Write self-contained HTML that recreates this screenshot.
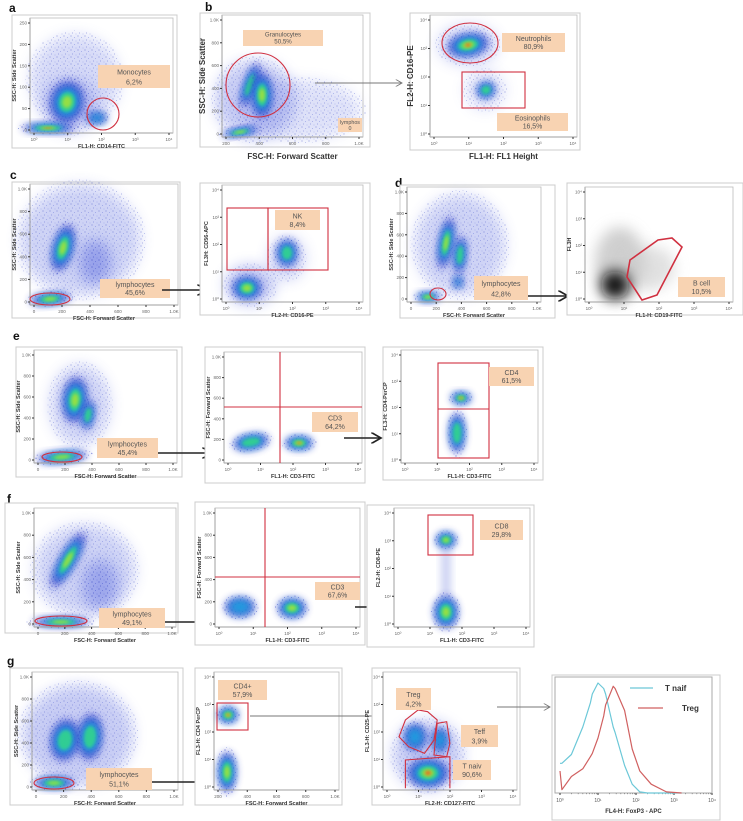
<!DOCTYPE html>
<html><head><meta charset="utf-8"><style>
body{margin:0;background:#fff}
svg{display:block;font-family:"Liberation Sans",sans-serif}
</style></head><body>
<svg id="fig" width="743" height="821" viewBox="0 0 743 821" xmlns="http://www.w3.org/2000/svg">
<defs>
<filter id="b1" x="-50%" y="-50%" width="200%" height="200%"><feGaussianBlur stdDeviation="1.5"/></filter>
<filter id="b3" x="-50%" y="-50%" width="200%" height="200%"><feGaussianBlur stdDeviation="4"/></filter>
<filter id="b6" x="-50%" y="-50%" width="200%" height="200%"><feGaussianBlur stdDeviation="7"/></filter>
<pattern id="sp" width="7" height="7" patternUnits="userSpaceOnUse">
<circle cx="1" cy="1" r="0.6" fill="#3040c0"/><circle cx="4.5" cy="2.5" r="0.5" fill="#5060d0"/><circle cx="2.5" cy="5" r="0.55" fill="#3040c0"/><circle cx="6" cy="6" r="0.45" fill="#6070d8"/>
</pattern>
<marker id="ah" markerWidth="8" markerHeight="8" refX="7" refY="4" orient="auto"><path d="M0,0 L7,4 L0,8" fill="none" stroke="#222" stroke-width="1.2"/></marker>
<marker id="ahg" markerWidth="8" markerHeight="8" refX="7" refY="4" orient="auto"><path d="M0,0 L7,4 L0,8" fill="none" stroke="#777" stroke-width="1"/></marker>
</defs>
<g id="layer"></g>
</svg>
<script>
// Histogram data (panel g, FoxP3): log10 positions and normalized counts
const histX = [0, 0.05, 0.3, 0.6, 0.8, 0.85, 1.0, 1.15, 1.2, 1.4, 1.45, 1.7, 1.9, 2.1, 2.3, 2.4, 2.8, 3.2];
const tnaifY = [0.27, 0.27, 0.35, 0.6, 0.82, 0.9, 1.0, 0.95, 0.9, 0.6, 0.55, 0.25, 0.08, 0.01, 0, 0, 0, 0];
const tregY = [0.2, 0.03, 0.15, 0.22, 0.33, 0.36, 0.5, 0.7, 0.8, 0.97, 0.95, 0.75, 0.4, 0.2, 0.12, 0.08, 0.01, 0];
const histXTicks = ['10⁰','10¹','10²','10³','10⁴'];

const NS='http://www.w3.org/2000/svg';
const L=document.getElementById('layer');
function mk(tag,attrs,parent,text){const e=document.createElementNS(NS,tag);for(const k in attrs)e.setAttribute(k,attrs[k]);if(text!==undefined)e.textContent=text;(parent||L).appendChild(e);return e;}

function frame(x1,y1,x2,y2,name){const r=mk('rect',{x:x1,y:y1,width:x2-x1,height:y2-y1,fill:'#fff',stroke:'#ccc','stroke-width':1});

}
function plot(x1,y1,x2,y2,xt,yt,xl,yl,name,big){
 const g=mk('g',{});
 
 
 mk('line',{x1:x1,y1:y1,x2:x1,y2:y2,stroke:'#333','stroke-width':1},g);
 mk('line',{x1:x1,y1:y2,x2:x2,y2:y2,stroke:'#333','stroke-width':1},g);
 mk('rect',{x:x1,y:y1,width:x2-x1,height:y2-y1,fill:'none',stroke:'#bbb','stroke-width':0.8},g);
 xt.forEach((t,i)=>{const x=x1+4+(x2-x1-8)*i/(xt.length-1);mk('line',{x1:x,y1:y2,x2:x,y2:y2+2,stroke:'#333'},g);mk('text',{x:x,y:y2+8,'font-size':4.5,fill:'#666','text-anchor':'middle'},g,t);});
 yt.forEach((t,i)=>{const y=y2-3-(y2-y1-8)*i/(yt.length-1);mk('line',{x1:x1-2,y1:y,x2:x1,y2:y,stroke:'#333'},g);mk('text',{x:x1-3,y:y+1.5,'font-size':4.5,fill:'#666','text-anchor':'end'},g,t);});
 const fs=big?8:5.5;
 const xlab=mk('text',{x:(x1+x2)/2,y:y2+(big?22:15),'font-size':fs,'font-weight':'bold',fill:'#333','text-anchor':'middle'},g,xl);
 
 
 const yx=x1-(big?17:14),yy=(y1+y2)/2;
 const ylab=mk('text',{x:yx,y:yy,'font-size':fs,'font-weight':'bold',fill:'#333','text-anchor':'middle',transform:`rotate(-90 ${yx} ${yy})`},g,yl);
 
 
}
const lin=['0','200','400','600','800','1.0K'], lg=['10⁰','10¹','10²','10³','10⁴'];
function haze(cx,cy,rx,ry,rot,op){
 mk('ellipse',{cx,cy,rx,ry,fill:'#6070e0',opacity:op||0.3,filter:'url(#b6)',transform:`rotate(${rot||0} ${cx} ${cy})`});
 mk('ellipse',{cx,cy,rx:rx*1.1,ry:ry*1.1,fill:'url(#sp)',opacity:0.45,transform:`rotate(${rot||0} ${cx} ${cy})`});
}
function blob(cx,cy,rx,ry,rot,lvl,name){
 const g=mk('g',{transform:`rotate(${rot||0} ${cx} ${cy})`});
 
 
 mk('ellipse',{cx,cy,rx:rx*1.25,ry:ry*1.25,fill:'url(#sp)',opacity:0.7},g);
 const cols=['#2a38c8','#1ea0e0','#30d090','#9be040','#f06020'];
 const sc=[1,0.72,0.5,0.3,0.15];
 for(let i=0;i<=lvl;i++)mk('ellipse',{cx,cy,rx:rx*sc[i],ry:ry*sc[i],fill:cols[i],opacity:i==0?0.8:0.95,filter:i<2?'url(#b3)':'url(#b1)'},g);
}
function gbox(x1,y1,x2,y2,t1,t2,name){
 const g=mk('g',{});
 
 
 mk('rect',{x:x1,y:y1,width:x2-x1,height:y2-y1,fill:'#f8d3b2'},g);
 const fs=Math.min(7,(y2-y1)/2.6);
 mk('text',{x:(x1+x2)/2,y:y1+(y2-y1)*0.42,'font-size':fs,fill:'#555','text-anchor':'middle'},g,t1);
 mk('text',{x:(x1+x2)/2,y:y1+(y2-y1)*0.85,'font-size':fs,fill:'#555','text-anchor':'middle'},g,t2);
}
function arrow(x1,y1,x2,y2,grey,name){const a=mk('line',{x1,y1,x2,y2,stroke:grey?'#777':'#222','stroke-width':grey?0.9:1.4,'marker-end':grey?'url(#ahg)':'url(#ah)'});

}
function red(tag,attrs,name){attrs.fill='none';attrs.stroke='#d03040';attrs['stroke-width']=attrs['stroke-width']||1.1;const e=mk(tag,attrs);

}
function letter(x,y,t){const e=mk('text',{x,y,'font-size':12,'font-weight':'bold',fill:'#111'},L,t);

}

// ===== Row a/b =====
letter(9,12,'a');letter(205,11,'b');
frame(12,15,177,148,'panel-a-frame');
haze(75,80,45,45,0,0.25);haze(70,105,28,28);
blob(67,102,16,20,10,3,'main-population');
blob(48,128,26,5,0,4,'debris-population');
blob(97,118,10,6,0,1,'monocyte-population');
plot(30,18,173,133,lg,['0','50','100','150','200','250'],'FL1-H: CD14-FITC','SSC-H: Side Scatter','panel-a-axes');
red('circle',{cx:103,cy:114,r:16},'monocytes-gate');
gbox(98,65,170,88,'Monocytes','6,2%','monocytes-label');

frame(200,13,370,147,'panel-b-frame');
haze(255,100,40,40,0,0.35);haze(300,110,60,30,0,0.2);
blob(250,85,6,22,20,2,'granulocyte-arm');
blob(262,95,10,22,0,3,'granulocyte-population');
blob(240,132,18,4,-10,3,'lymphocyte-band');
plot(222,15,363,137,['200','400','600','800','1.0K'],['0','200','400','600','800','1.0K'],'FSC-H: Forward Scatter','SSC-H: Side Scatter','panel-b-axes',true);
red('circle',{cx:258,cy:85,r:32},'granulocytes-gate');
gbox(243,30,323,46,'Granulocytes','50,5%','granulocytes-label');
gbox(338,118,362,132,'lymphos','0','lymphos-label');
arrow(315,83,402,83,true,'arrow-b-to-neutrophils');

frame(410,13,580,150,'panel-b2-frame');
haze(468,45,30,20,0,0.3);haze(485,90,20,20,0,0.2);
blob(468,45,20,11,-10,4,'neutrophil-population');
blob(486,90,9,8,-20,2,'eosinophil-population');
plot(430,15,577,137,lg,lg,'FL1-H: FL1 Height','FL2-H: CD16-PE','panel-b2-axes',true);
red('ellipse',{cx:470,cy:43,rx:28,ry:20},'neutrophils-gate');
red('rect',{x:462,y:72,width:63,height:36},'eosinophils-gate');
gbox(502,33,565,52,'Neutrophils','80,9%','neutrophils-label');
gbox(497,113,568,131,'Eosinophils','16,5%','eosinophils-label');

// ===== Row c/d =====
letter(10,179,'c');letter(395,187,'d');
frame(12,182,180,318,'panel-c1-frame');
haze(80,240,60,55,0,0.3);haze(95,262,16,22,0,0.5);
blob(63,248,10,23,15,3,'granulocyte-population');
blob(50,299,20,6,-5,3,'lymphocyte-population');
plot(30,184,178,305,lin,lin,'FSC-H: Forward Scatter','SSC-H: Side Scatter','panel-c1-axes');
red('ellipse',{cx:50,cy:299,rx:20,ry:6},'lymphocytes-gate-c');
gbox(100,279,170,298,'lymphocytes','45,6%','lymphocytes-label-c');
arrow(162,290,207,290,false,'arrow-c');

frame(200,183,370,315,'panel-c2-frame');
haze(250,285,25,20,0,0.4);haze(287,258,18,22,0,0.3);
blob(247,288,14,11,0,3,'cd16-negative-population');
blob(287,253,10,13,0,2,'nk-population');
plot(222,185,363,302,lg,lg,'FL2-H: CD16-PE','FL3H: CD56-APC','panel-c2-axes');
red('rect',{x:227,y:208,width:41,height:62},'cd56-gate');
red('rect',{x:268,y:208,width:60,height:62},'nk-gate');
gbox(275,210,320,230,'NK','8,4%','nk-label');

frame(400,185,555,318,'panel-d1-frame');
haze(460,245,45,50,0,0.3);
blob(446,243,7,25,10,3,'granulocyte-population-d');
blob(460,255,6,18,5,2,'monocyte-population-d');
blob(458,282,5,6,0,1,'small-population-d');
blob(428,297,12,5,0,3,'lymphocyte-population-d');
plot(407,187,541,302,lin,lin,'FSC-H: Forward Scatter','SSC-H: Side Scatter','panel-d1-axes');
red('ellipse',{cx:438,cy:294,rx:8,ry:6},'lymphocytes-gate-d');
gbox(474,276,528,300,'lymphocytes','42,8%','lymphocytes-label-d');
arrow(528,296,568,296,false,'arrow-d');

frame(567,183,743,315,'panel-d2-frame');
mk('ellipse',{cx:620,cy:262,rx:25,ry:35,fill:'#bbb',opacity:0.7,filter:'url(#b6)'});
mk('ellipse',{cx:650,cy:268,rx:25,ry:22,fill:'#ccc',opacity:0.6,filter:'url(#b6)'});
mk('ellipse',{cx:615,cy:285,rx:14,ry:14,fill:'#111',filter:'url(#b6)'});
plot(585,187,733,302,lg,lg,'FL1-H: CD19-FITC','FL3H','panel-d2-axes');
red('polygon',{points:'630,260 658,240 672,238 682,247 657,295 642,300 627,277','stroke-width':1.6},'b-cell-gate');
gbox(678,277,725,297,'B cell','10,5%','b-cell-label');

// ===== Row e =====
letter(13,340,'e');
frame(16,347,182,477,'panel-e1-frame');
haze(80,405,30,40,0,0.3);
blob(75,400,12,22,5,3,'granulocyte-population-e');
blob(88,415,6,14,10,2,'monocyte-population-e');
blob(62,457,25,6,-5,3,'lymphocyte-population-e');
plot(34,350,177,463,lin,lin,'FSC-H: Forward Scatter','SSC-H: Side Scatter','panel-e1-axes');
red('ellipse',{cx:62,cy:457,rx:20,ry:5},'lymphocytes-gate-e');
gbox(97,438,158,458,'lymphocytes','45,4%','lymphocytes-label-e');
arrow(158,453,212,453,false,'arrow-e1');

frame(205,347,365,483,'panel-e2-frame');
blob(251,442,18,8,-10,2,'cd3-negative-population');
blob(299,443,14,7,0,4,'cd3-positive-population');
plot(224,352,362,463,lg,lin,'FL1-H: CD3-FITC','FSC-H: Forward Scatter','panel-e2-axes');
red('line',{x1:280,y1:352,x2:280,y2:463},'quadrant-vertical-e');
red('line',{x1:224,y1:407,x2:362,y2:407},'quadrant-horizontal-e');
gbox(312,412,358,432,'CD3','64,2%','cd3-label-e');
arrow(344,438,381,438,false,'arrow-e2');

frame(383,347,543,480,'panel-e3-frame');
blob(461,398,10,6,0,4,'cd4-population');
blob(457,433,8,20,0,2,'cd4-negative-population');
plot(401,350,538,463,lg,lg,'FL1-H: CD3-FITC','FL3-H: CD4-PerCP','panel-e3-axes');
red('rect',{x:438,y:363,width:51,height:95},'cd3-gate-e');
red('line',{x1:438,y1:409,x2:489,y2:409},'cd4-divider');
gbox(489,367,534,386,'CD4','61,5%','cd4-label');

// ===== Row f =====
letter(7,503,'f');
frame(5,503,178,633,'panel-f1-frame');
haze(85,570,50,45,0,0.3);haze(100,585,18,25,0,0.45);
blob(68,560,8,30,30,3,'granulocyte-population-f');
blob(61,622,28,5,0,3,'lymphocyte-population-f');
plot(34,508,176,627,lin,lin,'FSC-H: Forward Scatter','SSC-H: Side Scatter','panel-f1-axes');
red('ellipse',{cx:61,cy:621,rx:26,ry:5},'lymphocytes-gate-f');
gbox(99,608,165,628,'lymphocytes','49,1%','lymphocytes-label-f');
arrow(165,622,205,622,false,'arrow-f1');

frame(195,502,365,645,'panel-f2-frame');
blob(240,607,15,10,0,1,'cd3-negative-population-f');
blob(292,608,14,10,0,3,'cd3-positive-population-f');
plot(215,508,360,627,lg,lin,'FL1-H: CD3-FITC','FSC-H: Forward Scatter','panel-f2-axes');
red('line',{x1:265,y1:508,x2:265,y2:627},'quadrant-vertical-f');
red('line',{x1:215,y1:577,x2:360,y2:577},'quadrant-horizontal-f');
gbox(315,582,360,600,'CD3','67,6%','cd3-label-f');
arrow(355,607,394,607,false,'arrow-f2');

frame(367,505,534,647,'panel-f3-frame');
blob(446,540,10,8,0,3,'cd8-population');
mk('rect',{x:441,y:548,width:10,height:50,fill:'#8090e0',opacity:0.4,filter:'url(#b3)'});
blob(446,612,12,16,0,3,'cd8-negative-population');
plot(394,508,530,627,lg,lg,'FL1-H: CD3-FITC','FL2-H: CD8-PE','panel-f3-axes');
red('rect',{x:428,y:515,width:45,height:40},'cd8-gate');
gbox(480,520,523,540,'CD8','29,8%','cd8-label');

// ===== Row g =====
letter(7,665,'g');
frame(10,668,183,805,'panel-g1-frame');
haze(78,735,55,50,0,0.35);
blob(65,740,14,20,10,2,'granulocyte-population-g');
blob(90,737,12,22,5,2,'monocyte-population-g');
blob(54,783,20,6,0,3,'lymphocyte-population-g');
plot(32,672,178,790,lin,lin,'FSC-H: Forward Scatter','SSC-H: Side Scatter','panel-g1-axes');
red('ellipse',{cx:54,cy:783,rx:20,ry:6},'lymphocytes-gate-g');
gbox(86,768,152,790,'lymphocytes','51,1%','lymphocytes-label-g');
arrow(152,782,207,782,false,'arrow-g1');

frame(195,668,342,805,'panel-g2-frame');
blob(228,715,10,8,0,4,'cd4-positive-population-g');
blob(227,772,9,20,0,3,'cd4-negative-population-g');
plot(214,672,339,790,['200','400','600','800','1.0K'],lg,'FSC-H: Forward Scatter','FL3-H: CD4 PerCP','panel-g2-axes');
red('rect',{x:217,y:703,width:31,height:27},'cd4-gate-g');
gbox(218,680,267,700,'CD4+','57,9%','cd4-plus-label');
arrow(250,716,386,716,true,'arrow-g2');

frame(372,668,520,805,'panel-g3-frame');
haze(428,755,35,35,0,0.35);
blob(415,737,11,13,0,1,'treg-population');
blob(440,740,8,12,0,1,'teff-population');
blob(428,773,20,14,0,4,'tnaive-population');
plot(383,672,517,790,lg,lg,'FL2-H: CD127-FITC','FL3-H: CD25-PE','panel-g3-axes');
function cv(pts){return pts.map(p=>[(372+(p[0]-1065)*0.318).toFixed(1),(640+p[1]/3).toFixed(1)].join(',')).join(' ');}
red('polygon',{points:cv([[1150,290],[1170,240],[1210,210],[1240,215],[1270,240],[1260,300],[1230,340],[1180,320]])},'treg-gate');
red('polygon',{points:cv([[1270,250],[1300,245],[1310,310],[1300,350],[1260,345],[1265,290]])},'teff-gate');
red('polyline',{points:cv([[1170,445],[1170,360],[1310,350],[1310,445]])},'tnaive-gate');
gbox(396,688,431,710,'Treg','4,2%','treg-label');
gbox(461,725,498,747,'Teff','3,9%','teff-label');
gbox(453,760,491,780,'T naiv','90,6%','tnaive-label');
arrow(497,707,550,707,true,'arrow-g3');

// Histogram panel
frame(552,675,720,820,'histogram-frame');
const hx1=555,hx2=712,hy1=677,hy2=793;
const xs=v=>560+v*(712-560)/4, ys=v=>793-v*(793-683);
const hg=mk('g',{});


mk('line',{x1:hx1,y1:hy1,x2:hx1,y2:hy2,stroke:'#333'},hg);
mk('line',{x1:hx1,y1:hy2,x2:hx2,y2:hy2,stroke:'#333'},hg);
mk('rect',{x:hx1,y:hy1,width:hx2-hx1,height:hy2-hy1,fill:'none',stroke:'#aaa'},hg);
histXTicks.forEach((t,i)=>{const x=xs(i);mk('line',{x1:x,y1:hy2,x2:x,y2:hy2+2,stroke:'#333'},hg);mk('text',{x:x,y:hy2+9,'font-size':5,fill:'#555','text-anchor':'middle'},hg,t);});
for(let d=0;d<4;d++)for(let k=2;k<10;k++){const x=xs(d+Math.log10(k));mk('line',{x1:x,y1:hy2,x2:x,y2:hy2+1.2,stroke:'#555','stroke-width':0.5},hg);}
const ht=mk('text',{x:(hx1+hx2)/2,y:813,'font-size':6,'font-weight':'bold',fill:'#333','text-anchor':'middle'},L,'FL4-H: FoxP3 - APC');


function curve(ys_,col,name){const d=histX.map((v,i)=>(i?'L':'M')+xs(v).toFixed(1)+','+ys(ys_[i]).toFixed(1)).join(' ');
const p=mk('path',{d,fill:'none',stroke:col,'stroke-width':1.2,'stroke-linejoin':'round'});

}
curve(tnaifY,'#6cc8d8','tnaif-curve');
curve(tregY,'#d06060','treg-curve');
const lgG=mk('g',{});


mk('line',{x1:630,y1:688,x2:653,y2:688,stroke:'#6cc8d8','stroke-width':1.2},lgG);
mk('text',{x:665,y:691,'font-size':8,'font-weight':'bold',fill:'#333'},lgG,'T naif');
mk('line',{x1:638,y1:708,x2:663,y2:708,stroke:'#d06060','stroke-width':1.2},lgG);
mk('text',{x:682,y:711,'font-size':8,'font-weight':'bold',fill:'#333'},lgG,'Treg');
</script>
</body></html>
